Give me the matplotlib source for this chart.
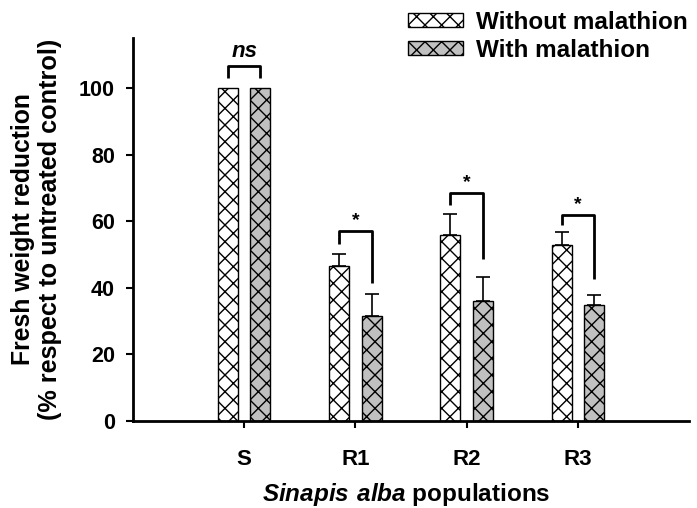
import matplotlib
matplotlib.use("Agg")
import matplotlib.pyplot as plt
import numpy as np

categories = ["S", "R1", "R2", "R3"]
without_mal = [100.0, 46.4, 55.9, 52.8]
without_err = [0.0, 3.8, 6.2, 4.0]
with_mal = [100.0, 31.4, 35.9, 34.7]
with_err = [0.0, 6.7, 7.3, 3.0]
# significance brackets: (top, left leg bottom, right leg bottom, label)
brackets = [(106.7, 103.0, 103.0, "ns"), (57.0, 53.0, 41.4, "*"),
            (68.5, 64.9, 48.6, "*"), (62.0, 58.9, 42.6, "*")]
yticks = [0, 20, 40, 60, 80, 100]

plt.rcParams['font.family'] = ['Liberation Sans', 'DejaVu Sans']
plt.rcParams['font.weight'] = 'bold'
plt.rcParams['hatch.linewidth'] = 1.0
plt.rcParams['mathtext.fontset'] = 'custom'
plt.rcParams['mathtext.bfit'] = 'Liberation Sans:bold:italic'
plt.rcParams['mathtext.bf'] = 'Liberation Sans:bold'
plt.rcParams['mathtext.rm'] = 'Liberation Sans:bold'

fig = plt.figure(figsize=(6.97, 5.08), dpi=100)
ax = fig.add_axes([133/697, 1-421/508, (689-133)/697, (421-38)/508])

x = np.arange(len(categories))
off = 0.145
w = 0.18
b1 = ax.bar(x - off, without_mal, w, color='white', edgecolor='black', hatch='xx',
            linewidth=1.0, label='Without malathion', zorder=2)
b2 = ax.bar(x + off, with_mal, w, color='#c0c0c0', edgecolor='black', hatch='xx',
            linewidth=1.0, label='With malathion', zorder=2)
for xi, v, e in zip(x - off, without_mal, without_err):
    if e > 0:
        ax.errorbar(xi, v, yerr=[[0], [e]], fmt='none', ecolor='black', elinewidth=1.2,
                    capsize=5, capthick=1.2, zorder=3)
for xi, v, e in zip(x + off, with_mal, with_err):
    if e > 0:
        ax.errorbar(xi, v, yerr=[[0], [e]], fmt='none', ecolor='black', elinewidth=1.2,
                    capsize=5, capthick=1.2, zorder=3)

for xi, (top, lb, rb, lab) in zip(x, brackets):
    ax.plot([xi - off, xi - off, xi + off, xi + off], [lb, top, top, rb],
            color='black', lw=2.0, solid_capstyle='butt', zorder=4)
    if lab == 'ns':
        ax.text(xi, top + 1.0, lab, ha='center', va='bottom', fontsize=16,
                fontweight='bold', fontstyle='italic')
    else:
        ax.text(xi, top + 0.5, lab, ha='center', va='bottom', fontsize=14,
                fontweight='bold')

ax.set_xlim(-1, 4)
ax.set_ylim(0, 115)
ax.set_xticks(x)
ax.set_xticklabels(categories, fontsize=16, fontweight='bold')
ax.set_yticks(yticks)
ax.set_yticklabels([str(t) for t in yticks], fontsize=15.5, fontweight='bold')
ax.tick_params(axis='x', direction='out', length=5, width=1.5, pad=15)
ax.tick_params(axis='y', direction='out', length=5, width=1.5, pad=8)
for s in ['top', 'right']:
    ax.spines[s].set_visible(False)
for s in ['left', 'bottom']:
    ax.spines[s].set_linewidth(2.0)

fig.text(406/697, 1-495/508, r'$\bfit{Sinapis\ alba}$ populations', ha='center',
         va='center', fontsize=17.5, fontweight='bold')
fig.text(23/697, 1-229/508, 'Fresh weight reduction', rotation=90, ha='center',
         va='center', fontsize=17.8, fontweight='bold')
fig.text(50/697, 1-229/508, '(% respect to untreated control)', rotation=90, ha='center',
         va='center', fontsize=18.2, fontweight='bold')

leg = fig.legend(handles=[b1, b2], loc='upper left', bbox_to_anchor=(408/697, 1-11/508),
                 frameon=False, fontsize=17.5, handlelength=2.26, handleheight=0.5,
                 handletextpad=0.55, labelspacing=0.2, borderpad=0, borderaxespad=0)
for t in leg.get_texts():
    t.set_fontweight('bold')

fig.savefig('out.png', dpi=100)
